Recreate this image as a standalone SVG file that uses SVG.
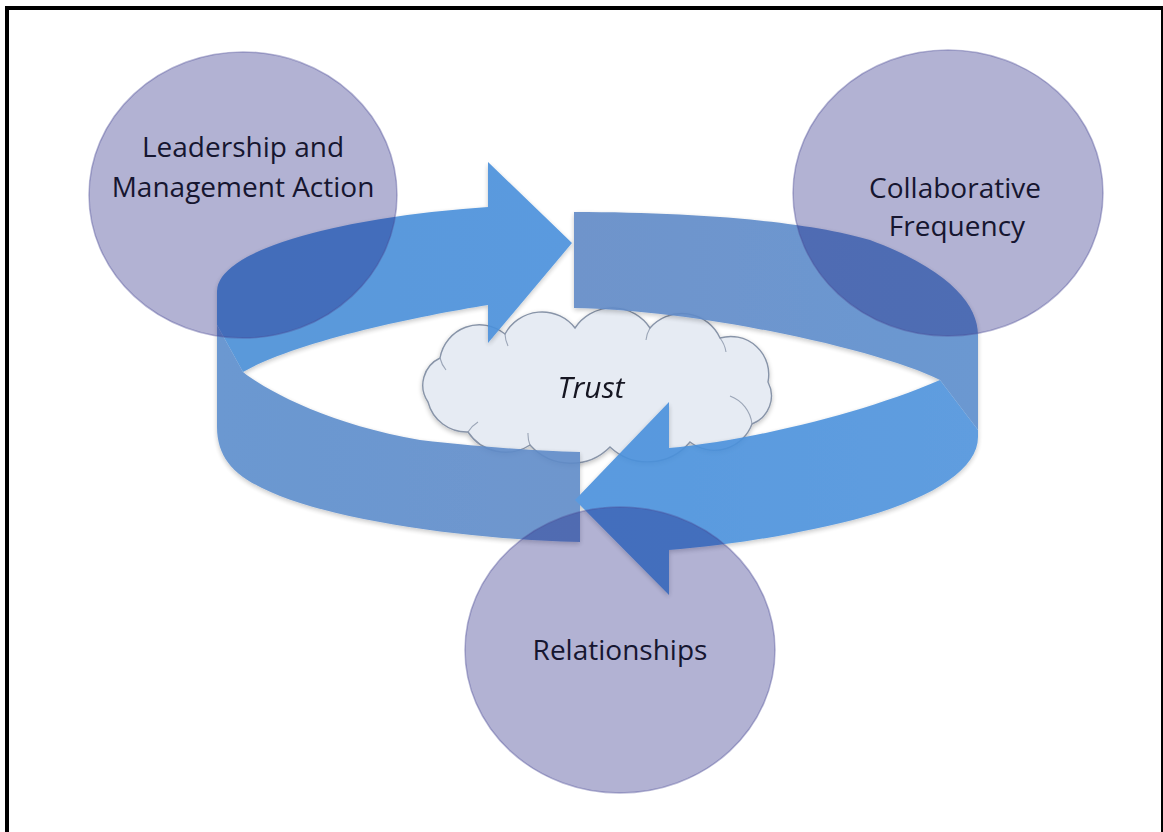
<svg xmlns="http://www.w3.org/2000/svg" width="1163" height="832" viewBox="0 0 1163 832">
  <defs>
    <style>
      .lbl { font-family: "Open Sans", "Liberation Sans", sans-serif; font-size: 28px; fill: #161630; text-anchor: middle; }
      .trust { font-family: "Open Sans", "Liberation Sans", sans-serif; font-size: 30px; font-style: italic; fill: #141420; text-anchor: middle; }
      .circ { fill: #14147a; fill-opacity: 0.33; stroke: #4a4a96; stroke-opacity: 0.4; stroke-width: 1.5; }
      .bright { fill: url(#gBright); }
      .muted { fill: url(#gMuted); }
      .brightB { fill: url(#gBrightB); }
      .mutedB { fill: url(#gMutedB); }
      .cloud { fill: #e6ebf3; stroke: #8894a8; stroke-width: 1.4; }
      .cloudIn { fill: none; stroke: #8894a8; stroke-width: 1.1; stroke-opacity: 0.8; }
    </style>
    <linearGradient id="gBright" x1="0" y1="0" x2="1" y2="0">
      <stop offset="0" stop-color="#4a8ed6"/>
      <stop offset="1" stop-color="#4890dc"/>
    </linearGradient>
    <linearGradient id="gMuted" x1="0" y1="0" x2="1" y2="0">
      <stop offset="0" stop-color="#5b8dcd"/>
      <stop offset="1" stop-color="#5f8bc8"/>
    </linearGradient>
    <linearGradient id="gBrightB" x1="1" y1="0" x2="0" y2="0">
      <stop offset="0" stop-color="#4f93dc"/>
      <stop offset="1" stop-color="#4890dc"/>
    </linearGradient>
    <linearGradient id="gMutedB" x1="0" y1="0" x2="1" y2="0">
      <stop offset="0" stop-color="#6089c6"/>
      <stop offset="1" stop-color="#5b8dcd"/>
    </linearGradient>
    <filter id="soft" x="-10%" y="-10%" width="120%" height="130%">
      <feGaussianBlur in="SourceAlpha" stdDeviation="2.5"/>
      <feOffset dx="0" dy="2" result="b"/>
      <feComponentTransfer><feFuncA type="linear" slope="0.25"/></feComponentTransfer>
      <feMerge><feMergeNode/><feMergeNode in="SourceGraphic"/></feMerge>
    </filter>
  </defs>

  <rect x="7" y="8" width="1156" height="840" fill="#ffffff" stroke="#000000" stroke-width="4"/>

  <!-- Trust cloud -->
  <g id="trust" filter="url(#soft)">
    <path class="cloud" d="M428,402 A30,30 0 0 1 440,358 A40,40 0 0 1 505,334 A42,42 0 0 1 575,328 A45,45 0 0 1 650,328 A42,42 0 0 1 720,338 A38,38 0 0 1 768,382 A30,30 0 0 1 752,424 A40,40 0 0 1 690,442 A55,55 0 0 1 610,447 A55,55 0 0 1 530,445 A45,45 0 0 1 468,432 A40,40 0 0 1 428,402 Z"/>
    <path class="cloudIn" d="M440,358 A30,30 0 0 0 446,370 M505,334 A30,30 0 0 0 508,346 M650,328 A30,30 0 0 0 646,340 M720,338 A30,30 0 0 1 726,352 M752,424 A34,34 0 0 0 730,396 M530,445 A30,30 0 0 1 528,433 M468,432 A30,30 0 0 1 478,422"/>
    <text class="trust" x="591" y="398">Trust</text>
  </g>

  <!-- Circular ribbon arrows (connectors) -->
  <g id="connectors" opacity="0.9" filter="url(#soft)">
    <!-- Arrow A: tail bottom-center, around left, head at top pointing right -->
    <path class="muted" d="M580,452 L580,542 C480,540 330,522 262,488 C232,474 217,455 217,427 L217,325 L243,372 C265,390 330,425 420,440 C480,447 540,451 580,452 Z"/>
    <path class="bright" d="M217,325 L217,291 A381,88 0 0 1 488,207 L488,162 L572,243 L488,343 L488,305 C420,316 300,340 243,372 Z"/>
    <!-- Arrow B: tail top-center, around right, head at bottom pointing left -->
    <path class="mutedB" d="M574,212 C700,212 810,222 870,240 C950,270 978,305 978,335 L978,430 L940,380 C880,350 700,310 574,308 Z"/>
    <path class="brightB" d="M940,380 L978,430 L978,437 C978,470 930,500 853,520 C780,538 720,546 669,550 L669,595 L575,500 L669,402 L669,448 C740,442 860,415 940,380 Z"/>
  </g>

  <!-- Nodes -->
  <g id="leadership">
    <ellipse class="circ" cx="243" cy="195" rx="154" ry="143"/>
    <text class="lbl" x="243" y="157">Leadership and</text>
    <text class="lbl" x="243" y="197">Management Action</text>
  </g>
  <g id="collaborative">
    <ellipse class="circ" cx="948" cy="193" rx="155" ry="143"/>
    <text class="lbl" x="955" y="198">Collaborative</text>
    <text class="lbl" x="957" y="236">Frequency</text>
  </g>
  <g id="relationships">
    <ellipse class="circ" cx="620" cy="650" rx="155" ry="143"/>
    <text class="lbl" x="620" y="660">Relationships</text>
  </g>
</svg>
